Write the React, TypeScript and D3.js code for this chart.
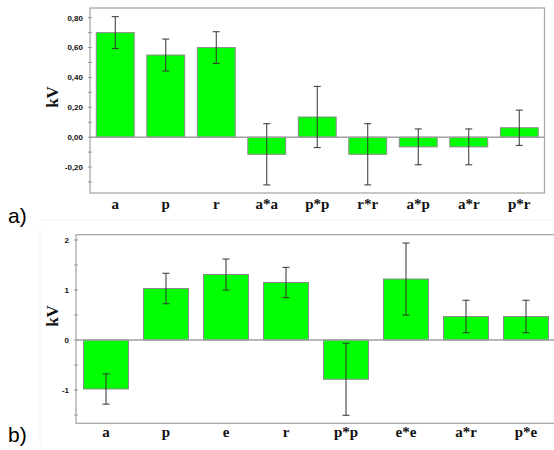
import React from "react";
import * as d3 from "d3";

const catsA = ["a", "p", "r", "a*a", "p*p", "r*r", "a*p", "a*r", "p*r"];
const valsA = [0.70, 0.55, 0.60, -0.115, 0.135, -0.115, -0.065, -0.065, 0.063];
const errsA = [0.107, 0.107, 0.106, 0.205, 0.205, 0.205, 0.12, 0.12, 0.118];
const ticksA = [-0.2, 0, 0.2, 0.4, 0.6, 0.8];

const catsB = ["a", "p", "e", "r", "p*p", "e*e", "a*r", "p*e"];
const valsB = [-0.98, 1.03, 1.31, 1.15, -0.785, 1.22, 0.47, 0.47];
const errsB = [0.303, 0.305, 0.31, 0.303, 0.72, 0.72, 0.325, 0.325];
const ticksB = [-1, 0, 1, 2];

type PanelProps = {
  cats: string[];
  vals: number[];
  errs: number[];
  ticks: number[];
  minor: number[];
  domain: [number, number];
  x0: number;
  x1: number;
  y0: number;
  y1: number;
  fmt: (v: number) => string;
  catBaseline: number;
  kvY: number;
  tag: string;
  tagY: number;
  capW: number;
};

function Panel(p: PanelProps) {
  const x = d3.scaleBand<string>().domain(p.cats).range([p.x0, p.x1]).paddingInner(0.25).paddingOuter(0.125);
  const y = d3.scaleLinear().domain(p.domain).range([p.y1, p.y0]);
  const bw = x.bandwidth();
  return (
    <g>
      {p.cats.map((c, i) => {
        const v = p.vals[i];
        return (
          <rect
            key={c + i}
            x={x(c)}
            y={Math.min(y(v), y(0))}
            width={bw}
            height={Math.abs(y(v) - y(0))}
            fill="#00ff00"
            stroke="#8a8a8a"
            strokeWidth={1}
          />
        );
      })}
      <line x1={p.x0} x2={p.x1} y1={y(0)} y2={y(0)} stroke="#a0a0a0" strokeWidth={1.5} />
      {p.cats.map((c, i) => {
        const v = p.vals[i];
        const e = p.errs[i];
        const xc = (x(c) as number) + bw / 2;
        return (
          <g key={"e" + i} stroke="#333" strokeWidth={1}>
            <line x1={xc} x2={xc} y1={y(v + e)} y2={y(v - e)} />
            <line x1={xc - p.capW} x2={xc + p.capW} y1={y(v + e)} y2={y(v + e)} />
            <line x1={xc - p.capW} x2={xc + p.capW} y1={y(v - e)} y2={y(v - e)} />
          </g>
        );
      })}
      <rect x={p.x0} y={p.y0} width={p.x1 - p.x0} height={p.y1 - p.y0} fill="none" stroke="#aaaaaa" strokeWidth={1.3} />
      {p.minor.map((t, i) => (
        <line key={"m" + i} x1={p.x0 - 2} x2={p.x0 + 2} y1={y(t)} y2={y(t)} stroke="#999" strokeWidth={1} />
      ))}
      {p.ticks.map((t, i) => (
        <g key={"t" + i}>
          <line x1={p.x0 - 2} x2={p.x0 + 2} y1={y(t)} y2={y(t)} stroke="#999" strokeWidth={1} />
          <text
            x={p.x0 - 7}
            y={y(t)}
            dy="0.35em"
            textAnchor="end"
            fontFamily="Liberation Sans, Arial, sans-serif"
            fontWeight="bold"
            fontSize={8}
            fill="#111"
          >
            {p.fmt(t)}
          </text>
        </g>
      ))}
      {p.cats.map((c, i) => (
        <text
          key={"c" + i}
          x={(x(c) as number) + bw / 2}
          y={p.catBaseline}
          textAnchor="middle"
          fontFamily="Liberation Serif, Times New Roman, serif"
          fontWeight="bold"
          fontSize={15}
          fill="#111"
        >
          {c}
        </text>
      ))}
      <text
        transform={`translate(58,${p.kvY}) rotate(-90)`}
        textAnchor="middle"
        fontFamily="Liberation Serif, Times New Roman, serif"
        fontWeight="bold"
        fontSize={17}
        fill="#111"
      >
        kV
      </text>
      <text x={8} y={p.tagY} fontFamily="Liberation Sans, Arial, sans-serif" fontSize={21} fill="#000">
        {p.tag}
      </text>
    </g>
  );
}

export default function App() {
  const fmtA = (v: number) => d3.format(".2f")(v).replace("−", "-").replace(".", ",");
  const fmtB = (v: number) => d3.format("d")(v).replace("−", "-");
  return (
    <svg
      width={554}
      height={450}
      style={{ position: "absolute", left: 0, top: 0, background: "#fff" }}
    >
      <rect x={0} y={0} width={554} height={450} fill="#fff" />
      <line x1={40} x2={554} y1={220} y2={220} stroke="#f2f2f2" />
      <line x1={40} x2={40} y1={228} y2={445} stroke="#f2f2f2" />
      <Panel
        cats={catsA}
        vals={valsA}
        errs={errsA}
        ticks={ticksA}
        minor={[-0.3, -0.1, 0.1, 0.3, 0.5, 0.7]}
        domain={[-0.374, 0.865]}
        x0={90}
        x1={544.5}
        y0={8}
        y1={193}
        fmt={fmtA}
        catBaseline={209}
        kvY={97}
        tag="a)"
        tagY={223}
        capW={3.5}
      />
      <Panel
        cats={catsB}
        vals={valsB}
        errs={errsB}
        ticks={ticksB}
        minor={[-1.5, -0.5, 0.5, 1.5]}
        domain={[-1.666, 2.106]}
        x0={76}
        x1={556}
        y0={234.7}
        y1={423.3}
        fmt={fmtB}
        catBaseline={437}
        kvY={316}
        tag="b)"
        tagY={442}
        capW={3.5}
      />
    </svg>
  );
}
